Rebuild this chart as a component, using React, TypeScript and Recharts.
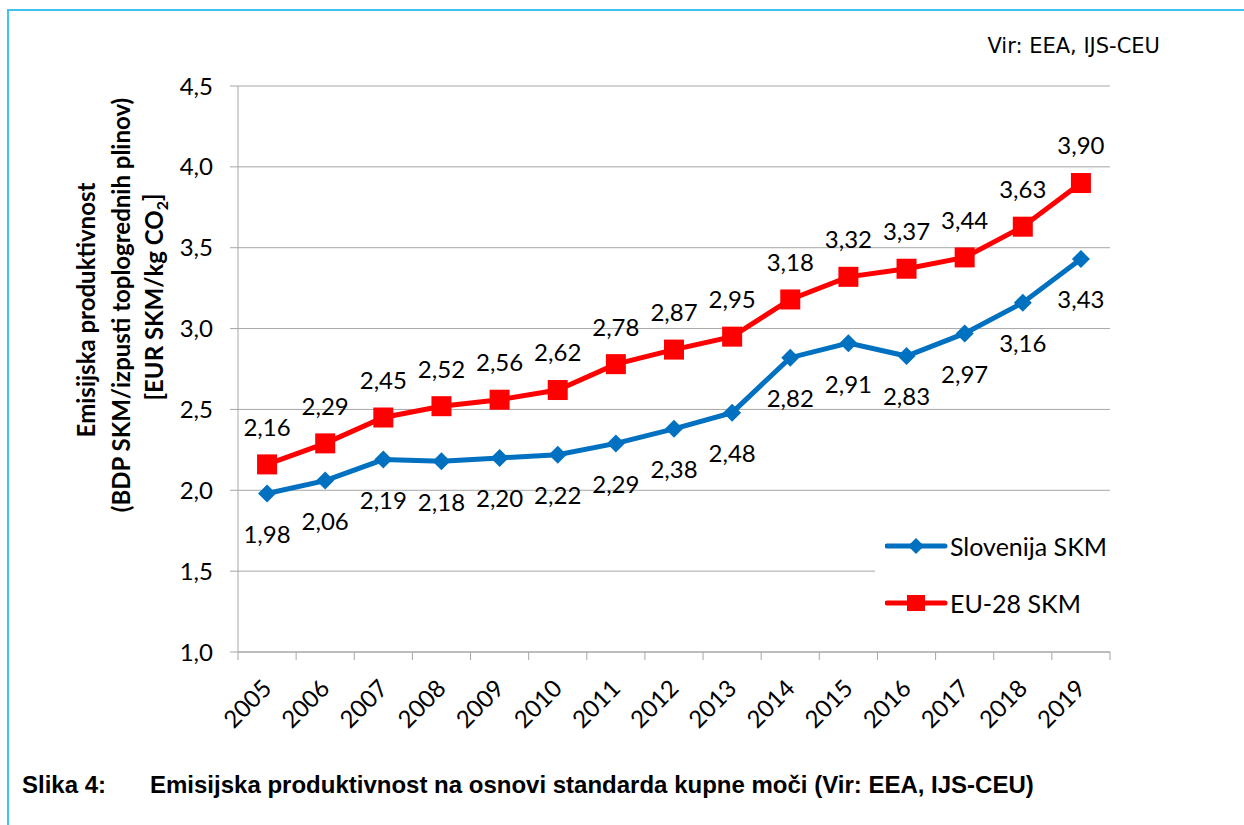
import React from 'react';
import { LineChart, Line, XAxis, YAxis, CartesianGrid, Legend, LabelList } from 'recharts';

const years = ['2005', '2006', '2007', '2008', '2009', '2010', '2011', '2012', '2013', '2014', '2015', '2016', '2017', '2018', '2019'];
const slovenija = [1.98, 2.06, 2.19, 2.18, 2.2, 2.22, 2.29, 2.38, 2.48, 2.82, 2.91, 2.83, 2.97, 3.16, 3.43];
const eu28 = [2.16, 2.29, 2.45, 2.52, 2.56, 2.62, 2.78, 2.87, 2.95, 3.18, 3.32, 3.37, 3.44, 3.63, 3.9];
const yTicks = [1, 1.5, 2, 2.5, 3, 3.5, 4, 4.5];
const sloName = 'Slovenija SKM';
const euName = 'EU-28 SKM';
const titleLines = ['Emisijska produktivnost', '(BDP SKM/izpusti toplogrednih plinov)'];
const sourceText = 'Vir: EEA, IJS-CEU';
const captionLabel = 'Slika 4:';
const captionText = 'Emisijska produktivnost na osnovi standarda kupne moči (Vir: EEA, IJS-CEU)';

// each year occupies one slot [i, i+1] on the x axis; points sit at slot centres
const data = years.map((y, i) => ({ year: y, x: i + 0.5, slo: slovenija[i], eu: eu28[i] }));
const boundaryTicks = years.map((_, i) => i).concat([years.length]);

const BLUE = '#0070C0';
const RED = '#FF0000';
const GRID = '#A6A6A6';
const FONT = 'Lato, Calibri, sans-serif';
const PLOT_BOTTOM = 652;
const fmt2 = (v: number) => v.toFixed(2).replace('.', ',');
const fmt1 = (v: number) => v.toFixed(1).replace('.', ',');

const diamond = (cx: number, cy: number, r: number) =>
  `${cx},${cy - r} ${cx + r},${cy} ${cx},${cy + r} ${cx - r},${cy}`;

const SloDot = (p: any) => {
  if (p.cx == null || p.cy == null) return <g key={p.index} />;
  return <polygon key={p.index} points={diamond(p.cx, p.cy, 9)} fill={BLUE} />;
};
const EuDot = (p: any) => {
  if (p.cx == null || p.cy == null) return <g key={p.index} />;
  return <rect key={p.index} x={p.cx - 10} y={p.cy - 10} width={20} height={20} fill={RED} />;
};

const makeLabel = (dy: number) => (p: any) => (
  <text
    key={p.index}
    x={p.x}
    y={p.y + dy}
    dy="0.35em"
    textAnchor="middle"
    fontFamily={FONT}
    fontSize={24}
    fill="#000"
  >
    {fmt2(Number(p.value))}
  </text>
);

const YearTick = (p: any) => {
  const i = Number(p.payload.value);
  if (i >= years.length) return <g />;
  const step = p.width / (p.visibleTicksCount - 1);
  const ax = p.x + step / 2 + 6;
  const ay = PLOT_BOTTOM + 38;
  return (
    <text
      x={ax}
      y={ay}
      textAnchor="end"
      transform={`rotate(-45, ${ax}, ${ay})`}
      fontFamily={FONT}
      fontSize={24}
      fill="#000"
    >
      {years[i]}
    </text>
  );
};

const LegendContent = (props: any) => {
  const payload = props.payload || [];
  return (
    <div style={{ width: 235, height: 112, background: '#fff', position: 'relative' }}>
      {payload.map((e: any, i: number) => {
        const isSlo = e.dataKey === 'slo';
        const color = isSlo ? BLUE : RED;
        return (
          <div
            key={i}
            style={{ position: 'absolute', left: 10, top: isSlo ? 11 : 68, height: 34, display: 'flex', alignItems: 'center' }}
          >
            <svg width={64} height={34} style={{ display: 'block' }}>
              <line x1={2} y1={17} x2={60} y2={17} stroke={color} strokeWidth={5} strokeLinecap="round" />
              {isSlo ? (
                <polygon points={diamond(31, 17, 8)} fill={color} />
              ) : (
                <rect x={22} y={9} width={18} height={16} fill={color} />
              )}
            </svg>
            <span style={{ fontFamily: FONT, fontSize: 25, color: '#000', marginLeft: 1, whiteSpace: 'nowrap' }}>
              {e.value}
            </span>
          </div>
        );
      })}
    </div>
  );
};

export default function App() {
  return (
    <div style={{ position: 'fixed', left: 0, top: 0, width: 1244, height: 825, background: '#fff', overflow: 'hidden' }}>
      <div style={{ position: 'absolute', left: 7, top: 9, width: 1244, height: 2, background: '#3FC3EE' }} />
      <div style={{ position: 'absolute', left: 7, top: 9, width: 2, height: 830, background: '#3FC3EE' }} />
      <div style={{ position: 'absolute', left: 0, top: 0 }}>
        <LineChart width={1244} height={760} data={data} margin={{ top: 86, right: 134, bottom: 17, left: 158 }}>
          <CartesianGrid vertical={false} stroke={GRID} strokeWidth={1} />
          <XAxis
            dataKey="x"
            type="number"
            domain={[0, years.length]}
            ticks={boundaryTicks}
            allowDataOverflow
            interval={0}
            height={91}
            tickSize={8}
            axisLine={{ stroke: GRID, strokeWidth: 1 }}
            tickLine={{ stroke: GRID, strokeWidth: 1 }}
            tick={<YearTick />}
          />
          <YAxis
            domain={[1, 4.5]}
            ticks={yTicks}
            interval={0}
            width={80}
            tickSize={8}
            tickMargin={17}
            tickFormatter={fmt1}
            axisLine={{ stroke: GRID, strokeWidth: 1 }}
            tickLine={{ stroke: GRID, strokeWidth: 1 }}
            tick={{ fontFamily: FONT, fontSize: 24, fill: '#000' }}
          />
          <Legend layout="vertical" align="center" verticalAlign="middle" content={<LegendContent />}
            wrapperStyle={{ left: 875, top: 518, width: 235, height: 112 }} />
          <Line
            dataKey="slo"
            name={sloName}
            stroke={BLUE}
            strokeWidth={5}
            dot={SloDot}
            activeDot={false}
            isAnimationActive={false}
          >
            <LabelList dataKey="slo" content={makeLabel(41)} />
          </Line>
          <Line
            dataKey="eu"
            name={euName}
            stroke={RED}
            strokeWidth={5}
            dot={EuDot}
            activeDot={false}
            isAnimationActive={false}
          >
            <LabelList dataKey="eu" content={makeLabel(-37)} />
          </Line>
        </LineChart>
      </div>
      <svg width={1244} height={825} style={{ position: 'absolute', left: 0, top: 0, pointerEvents: 'none' }}>
        <g transform="translate(87, 310) rotate(-90)">
          <text x={0} y={0} dy="0.35em" textAnchor="middle" fontFamily={FONT} fontWeight="bold" fontSize={24} fill="#000">
            {titleLines[0]}
          </text>
        </g>
        <g transform="translate(122, 305) rotate(-90)">
          <text x={0} y={0} dy="0.35em" textAnchor="middle" fontFamily={FONT} fontWeight="bold" fontSize={24} fill="#000">
            {titleLines[1]}
          </text>
        </g>
        <g transform="translate(155, 297) rotate(-90)">
          <text x={0} y={0} dy="0.35em" textAnchor="middle" fontFamily={FONT} fontWeight="bold" fontSize={24} fill="#000">
            [EUR SKM/kg CO<tspan dy="0.3em" fontSize={16}>2</tspan><tspan dy="-0.3em">]</tspan>
          </text>
        </g>
        <text x={1160} y={46} dy="0.35em" textAnchor="end" fontFamily="Tahoma, 'DejaVu Sans', sans-serif" fontSize={21} fill="#000">
          {sourceText}
        </text>
        <text x={22} y={785} dy="0.35em" fontFamily="'Liberation Sans', Arial, sans-serif" fontWeight="bold" fontSize={24} fill="#000">
          {captionLabel}
        </text>
        <text x={150} y={785} dy="0.35em" fontFamily="'Liberation Sans', Arial, sans-serif" fontWeight="bold" fontSize={24} fill="#000">
          {captionText}
        </text>
      </svg>
    </div>
  );
}
